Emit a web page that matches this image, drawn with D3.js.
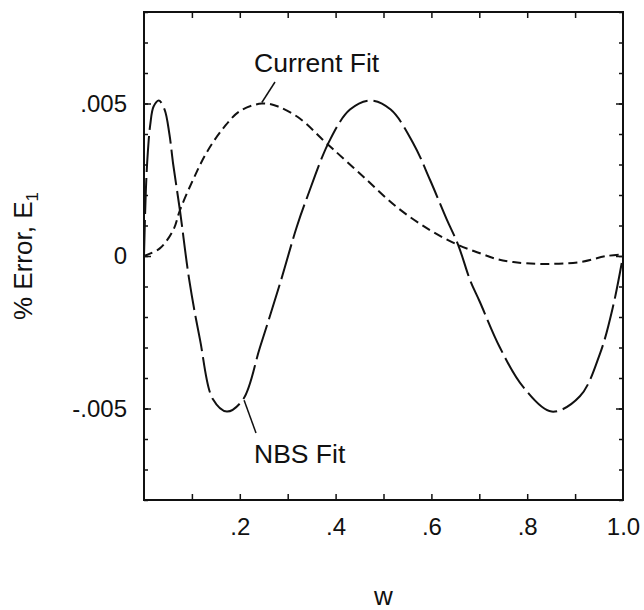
<!DOCTYPE html>
<html>
<head>
<meta charset="utf-8">
<script src="https://cdn.jsdelivr.net/npm/d3@7"></script>
<style>
  html, body { margin: 0; padding: 0; background: #fff; }
  svg text { font-family: "Liberation Sans", Arial, Helvetica, sans-serif; fill: #111; }
</style>
</head>
<body>
<svg id="chart" width="644" height="610"></svg>
<script>
// Relative error of the two fits as a function of w
const nbsW = [0, 0.004, 0.008, 0.013, 0.02, 0.031, 0.043, 0.053, 0.061, 0.075, 0.0946, 0.117, 0.144, 0.173, 0.207, 0.242, 0.284, 0.319, 0.34, 0.388, 0.43, 0.472, 0.515, 0.562, 0.597, 0.632, 0.656, 0.681, 0.701, 0.743, 0.792, 0.851, 0.91, 0.952, 0.98, 1.0];
const nbsE = [0, 0.0022, 0.0034, 0.0043, 0.0049, 0.0051, 0.0048, 0.0040, 0.0030, 0.0015, -0.0008, -0.00275, -0.0047, -0.0051, -0.0047, -0.0030, -0.0009, 0.00096, 0.0019, 0.0038, 0.0048, 0.0051, 0.0048, 0.0037, 0.0025, 0.0012, 0.00036, -0.0008, -0.0015, -0.0030, -0.0043, -0.0051, -0.0046, -0.0032, -0.0016, 0];

const curW = [0, 0.033, 0.061, 0.075, 0.103, 0.131, 0.166, 0.2, 0.246, 0.28, 0.326, 0.374, 0.395, 0.458, 0.528, 0.597, 0.656, 0.70, 0.736, 0.771, 0.827, 0.91, 0.966, 1.0];
const curE = [0, 0.00025, 0.00085, 0.0015, 0.00252, 0.0034, 0.0042, 0.00475, 0.0050, 0.0049, 0.0045, 0.0038, 0.0035, 0.0026, 0.0016, 0.00085, 0.00036, 0.0001, -0.0001, -0.0002, -0.00026, -0.0002, 0, 0.00005];

const xTickValues = [0.2, 0.4, 0.6, 0.8, 1.0];
const xTickLabels = [".2", ".4", ".6", ".8", "1.0"];
const yTickValues = [0.005, 0, -0.005];
const yTickLabels = [".005", "0", "-.005"];

const seriesNames = ["NBS Fit", "Current Fit"];

const svg = d3.select("#chart");
const plotL = 144, plotR = 623, plotT = 12, plotB = 500;

const x = d3.scaleLinear().domain([0, 1]).range([plotL, plotR]);
const y = d3.scaleLinear().domain([-0.008, 0.008]).range([plotB, plotT]);

const minorX = d3.range(1, 10).map(d => d / 10);
const minorY = d3.range(-8, 9).map(d => d / 1000);

function clean(g) { g.select(".domain").remove(); }

// Bottom and top axes (ticks point inward)
svg.append("g").attr("transform", `translate(0,${plotB})`)
  .call(d3.axisBottom(x).tickValues(minorX).tickSize(-6).tickFormat(""))
  .call(clean);
svg.append("g").attr("transform", `translate(0,${plotT})`)
  .call(d3.axisTop(x).tickValues(minorX).tickSize(-6).tickFormat(""))
  .call(clean);
svg.append("g").attr("transform", `translate(0,${plotB})`)
  .call(d3.axisBottom(x).tickValues(xTickValues).tickSize(0).tickPadding(18)
    .tickFormat((d, i) => xTickLabels[i]))
  .call(clean)
  .call(g => g.selectAll("text").style("font-size", "24px").attr("fill", "#111"));

// Left and right axes: minor every .001, major at labeled values
svg.append("g").attr("transform", `translate(${plotL},0)`)
  .call(d3.axisLeft(y).tickValues(minorY).tickSize(-4).tickFormat(""))
  .call(clean);
svg.append("g").attr("transform", `translate(${plotR},0)`)
  .call(d3.axisRight(y).tickValues(minorY).tickSize(-4).tickFormat(""))
  .call(clean);
svg.append("g").attr("transform", `translate(${plotL},0)`)
  .call(d3.axisLeft(y).tickValues(yTickValues).tickSize(-7).tickPadding(17)
    .tickFormat((d, i) => yTickLabels[i]))
  .call(clean)
  .call(g => g.selectAll("text").style("font-size", "24px").attr("fill", "#111"));
svg.append("g").attr("transform", `translate(${plotR},0)`)
  .call(d3.axisRight(y).tickValues(yTickValues).tickSize(-7).tickFormat(""))
  .call(clean);

svg.selectAll(".tick line").attr("stroke", "#111").attr("stroke-width", 1.5);

// Frame
svg.append("rect")
  .attr("x", plotL).attr("y", plotT)
  .attr("width", plotR - plotL).attr("height", plotB - plotT)
  .attr("fill", "none").attr("stroke", "#111").attr("stroke-width", 2);

// Curves
const line = d3.line().x(d => x(d[0])).y(d => y(d[1])).curve(d3.curveCatmullRom.alpha(0.5));

svg.append("path")
  .datum(d3.zip(nbsW, nbsE))
  .attr("d", line)
  .attr("fill", "none").attr("stroke", "#111").attr("stroke-width", 2)
  .attr("stroke-dasharray", "36,6");

svg.append("path")
  .datum(d3.zip(curW, curE))
  .attr("d", line)
  .attr("fill", "none").attr("stroke", "#111").attr("stroke-width", 2)
  .attr("stroke-dasharray", "9,5");

// Curve labels with leader lines
const notes = [
  { name: seriesNames[1], tx: 254, ty: 72, from: [275, 82], toW: 0.246, toE: 0.0050 },
  { name: seriesNames[0], tx: 254, ty: 463, from: [256, 433], toW: 0.209, toE: -0.0046 }
];
notes.forEach(n => {
  svg.append("text").attr("x", n.tx).attr("y", n.ty)
    .style("font-size", "26.5px").text(n.name);
  svg.append("line")
    .attr("x1", n.from[0]).attr("y1", n.from[1])
    .attr("x2", x(n.toW)).attr("y2", y(n.toE) + (n.toE > 0 ? -1 : 4))
    .attr("stroke", "#111").attr("stroke-width", 1.5);
});

// Axis titles
svg.append("text")
  .attr("x", (plotL + plotR) / 2).attr("y", 605)
  .attr("text-anchor", "middle").style("font-size", "26px").text("w");

const yTitle = svg.append("text")
  .attr("transform", `translate(32,${(plotT + plotB) / 2}) rotate(-90)`)
  .attr("text-anchor", "middle").style("font-size", "26px");
yTitle.append("tspan").text("% Error, E");
yTitle.append("tspan").attr("dy", 6).style("font-size", "17px").text("1");
</script>
</body>
</html>
